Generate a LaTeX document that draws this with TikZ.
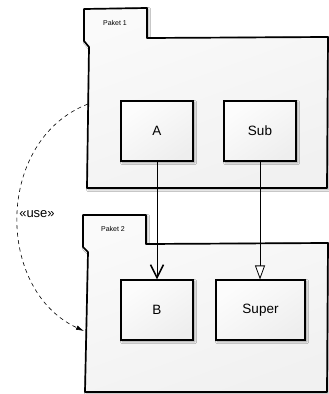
\documentclass[tikz,border=0pt]{standalone}
\usepackage{fontspec}
\setmainfont{Liberation Sans}
\usetikzlibrary{arrows.meta,shadows,shadows.blur}

\tikzset{
  pkgshape/.style={draw=black, line width=1.7pt, line join=round,
    top color=gray!4, bottom color=gray!11, shading angle=20,
    blur shadow={shadow xshift=1.6pt, shadow yshift=-1.6pt, shadow blur steps=5, shadow opacity=35}},
  tabtext/.style={font=\fontsize{7}{8}\selectfont, text=black},
  classbox/.style={draw=black, line width=1.1pt, rectangle, inner sep=0pt,
    minimum height=60pt, top color=gray!2, bottom color=gray!13, shading angle=35,
    font=\fontsize{13.5}{15}\selectfont,
    blur shadow={shadow xshift=1.6pt, shadow yshift=-1.6pt, shadow blur steps=5, shadow opacity=40}},
  assoc/.style={draw=black, line width=0.8pt},
  usearrow/.style={draw=black, line width=0.6pt, dash pattern=on 4pt off 3.5pt,
    -{Latex[length=8pt,width=4.5pt]}},
  stereo/.style={font=\fontsize{13}{15}\selectfont, inner sep=1pt, fill=white}
}

\begin{document}
\begin{tikzpicture}[x=1pt,y=-1pt]
  \useasboundingbox[fill=white] (0,0) rectangle (329,394);

  % package "Paket 1": tab and body in one outline
  \path[pkgshape] (84,9) -- (147,8) -- (147,38) -- (328,37) -- (327,188)
     -- (87,188) -- (89,47) -- (84,41) -- cycle;
  \node[tabtext] (t1) at (115,23) {Paket 1};

  % package "Paket 2"
  \path[pkgshape] (83,215) -- (146,215) -- (146,244) -- (328,243) -- (327,392)
     -- (85,392) -- (88,252) -- (83,247) -- cycle;
  \node[tabtext] (t2) at (113,229) {Paket 2};

  % classes
  \node[classbox, minimum width=72pt] (A)     at (157,131)   {A};
  \node[classbox, minimum width=72pt] (Sub)   at (260,131)   {Sub};
  \node[classbox, minimum width=72pt] (B)     at (157,310)   {B};
  \node[classbox, minimum width=89pt] (Super) at (260.5,310) {Super};

  % navigable association and generalisation
  \draw[assoc, -{Straight Barb[length=13pt,width=13pt,line width=1.6pt]}] (A.south) -- (B.north);
  \draw[assoc, -{Triangle[open,length=14pt,width=10pt,fill=white]}] (Sub.south) -- (Super.north -| Sub.south);

  % package dependency
  \coordinate (u1) at (88,104);
  \coordinate (u2) at (84,331);
  \draw[usearrow] (u1) .. controls (-5,140) and (-5,290) .. (u2);
  \node[stereo] (use) at (37,214) {«use»};
\end{tikzpicture}
\end{document}
